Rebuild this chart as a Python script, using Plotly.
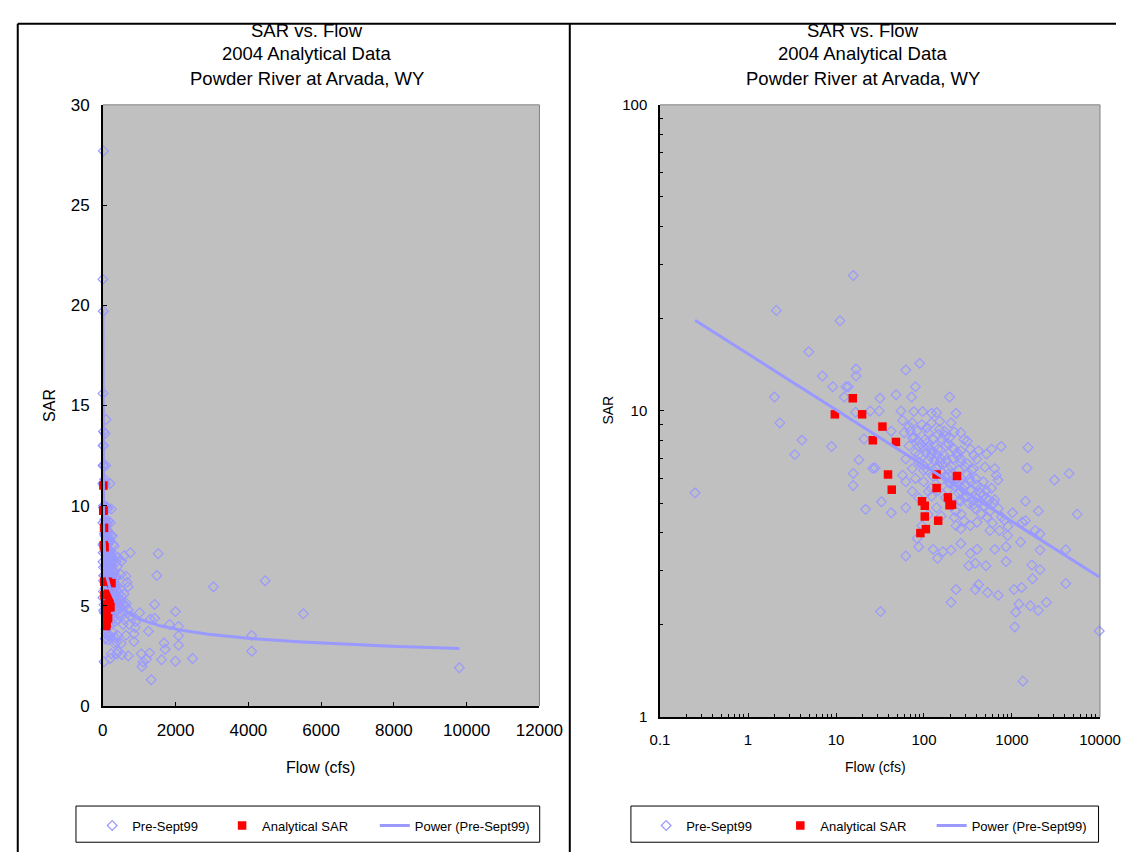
import numpy as np
import plotly.graph_objects as go

# ---------------- data ----------------
pre_flow = [0.25, 2.0, 2.1, 2.3, 3.4, 4.1, 4.9, 7.0, 8.9, 9.2, 11.1, 12.4, 13.0, 13.8, 15.7, 15.7, 15.7,
            16.7, 16.9, 16.9, 18.2, 20.8, 21.7, 24.5, 26.2, 27.8, 31.0, 31.6, 32.0, 32.9, 42.4, 42.4,
            48.2, 54.7, 57.1, 57.1, 59.5, 62.1, 62.1, 62.1, 62.1, 62.1, 67.6, 67.6, 72.3, 73.6, 73.6,
            73.6, 73.6, 76.7, 80.0, 80.0, 80.0, 83.5, 83.5, 87.1, 87.1, 87.1, 87.1, 89.3, 94.8, 94.8,
            96.4, 98.9, 98.9, 103, 108, 112, 112, 112, 112, 112, 122, 122, 122, 122, 127, 127, 139,
            139, 139, 142, 145, 145, 151, 151, 157, 157, 157, 164, 171, 171, 179, 187, 187, 195, 195,
            203, 203, 203, 203, 203, 212, 221, 221, 221, 231, 231, 231, 240, 251, 262, 262, 262, 262,
            262, 262, 262, 262, 285, 285, 310, 310, 310, 323, 337, 337, 337, 337, 337, 367, 367, 367,
            383, 383, 400, 400, 400, 400, 400, 417, 417, 435, 473, 493, 506, 515, 515, 528, 561, 585,
            585, 637, 637, 637, 664, 693, 699, 723, 754, 855, 855, 893, 1013, 1057, 1075, 1104, 1200,
            1253, 1285, 1306, 1330, 1422, 1422, 1484, 1521, 1614, 1683, 1713, 1834, 1995, 1995, 2081,
            2081, 2081, 2466, 3040, 4090, 4090, 4460, 5510, 9800,
            70, 78, 85, 92, 100, 105, 110, 118, 125, 130, 135, 140, 148, 155, 160, 165, 172, 180, 188,
            195, 205, 215, 225, 235, 245, 255, 270, 285, 300, 320, 340, 360, 380, 420, 450, 480, 520,
            560, 600, 110, 95, 88, 120, 128, 145, 175, 200, 230, 250, 265, 150, 175, 190, 210, 240,
            260, 290, 310, 330, 350, 390, 440, 470, 510, 550, 620, 700, 760, 820, 900]
pre_sar = [5.4, 11.1, 21.3, 9.14, 7.2, 8.03, 15.6, 13.0, 7.65, 12.0, 19.7, 11.1, 12.0, 12.0, 27.7, 6.25, 5.71,
           9.9, 13.7, 13.0, 6.92, 8.1, 4.77, 10.0, 6.5, 6.51, 10.0, 11.0, 2.21, 5.05, 8.59, 4.65,
           11.3, 10.0, 9.31, 6.17, 8.49, 13.6, 6.97, 5.87, 4.83, 3.36, 8.91, 7.69, 11.1, 9.14, 8.18,
           6.48, 5.46, 9.95, 12.0, 7.32, 6.02, 8.59, 3.83, 7.65, 6.80, 5.20, 3.60, 14.3, 9.02, 4.22,
           9.95, 6.40, 5.87, 8.07, 8.81, 8.49, 7.60, 6.89, 5.46, 4.59, 9.83, 9.14, 7.23, 5.26, 8.07, 3.53, 9.88,
           6.56, 4.83, 3.30, 8.38, 7.50, 9.25, 6.80, 8.11, 5.95, 4.54, 3.47, 8.59, 7.14, 7.69, 6.48, 5.53, 11.1, 8.18,
           9.14, 5.80, 4.89, 3.51, 2.37, 6.97, 8.53, 7.50, 4.49, 9.83, 4.22, 2.61, 7.14, 6.40, 8.49, 7.41, 6.80, 6.02,
           5.46, 5.07, 4.12, 3.69, 8.07, 4.38, 7.98, 6.72, 5.26, 3.12, 7.50, 5.87, 5.53, 4.22, 3.42, 7.18, 6.48, 4.95,
           3.18, 2.61, 6.97, 5.73, 5.20, 4.33, 3.53, 7.41, 2.71, 5.39, 5.87, 6.56, 3.12, 7.23, 5.20, 2.55, 4.07, 7.50,
           5.59, 6.48, 5.13, 3.53, 6.17, 5.95, 2.50, 4.07, 7.65, 3.60, 3.22, 3.92, 4.65, 2.61, 1.97, 2.20, 2.34,
           3.73, 2.65, 4.33, 1.31, 5.07, 4.38, 6.51, 7.60, 2.31, 3.14, 2.83, 4.07, 4.71, 2.23, 3.97,
           3.51, 3.03, 2.37, 5.95, 3.52, 2.73, 6.25, 4.6, 1.91,
           8.6, 8.2, 8.0, 7.8, 7.6, 7.3, 7.9, 7.1, 7.4, 6.9, 7.7, 7.2, 6.6, 7.0, 6.3, 6.7, 6.1, 6.9, 6.2,
           5.8, 6.6, 6.2, 5.7, 6.0, 5.4, 5.9, 5.6, 5.2, 5.7, 5.0, 5.5, 5.1, 4.8, 5.0, 4.6, 4.9, 4.5,
           4.7, 4.3, 6.4, 6.7, 7.2, 5.6, 6.1, 5.5, 5.2, 5.0, 4.7, 5.1, 4.6, 8.7, 8.3, 7.8, 7.6, 7.3,
           7.0, 6.6, 6.2, 6.0, 6.4, 6.0, 5.6, 5.3, 5.5, 5.1, 5.0, 4.8, 4.5, 4.4, 4.2]

an_flow = [15.5, 9.7, 19.8, 33.7, 26.2, 48, 39, 43, 139, 237, 139, 95, 102, 187, 208, 195, 102, 145, 105, 91]
an_sar = [11.0, 9.75, 9.75, 8.89, 8.02, 7.92, 6.2, 5.53, 6.2, 6.13, 5.6, 5.07, 4.9, 5.22, 4.94, 4.92,
          4.52, 4.38, 4.11, 3.99]

title_lines = ["SAR vs. Flow", "2004 Analytical Data", "Powder River at Arvada, WY"]
series_names = ["Pre-Sept99", "Analytical SAR", "Power (Pre-Sept99)"]
lin_x_ticks = [0, 2000, 4000, 6000, 8000, 10000, 12000]
lin_x_labels = ["0", "2000", "4000", "6000", "8000", "10000", "12000"]
lin_y_ticks = [0, 5, 10, 15, 20, 25, 30]
log_x_ticks = [0.1, 1, 10, 100, 1000, 10000]
log_x_labels = ["0.1", "1", "10", "100", "1000", "10000"]
log_y_ticks = [1, 10, 100]
log_y_labels = ["1", "10", "100"]

# ---------------- power trendline fitted to Pre-Sept99 ----------------
slope, icpt = np.polyfit(np.log10(pre_flow), np.log10(pre_sar), 1)
trend_x = np.logspace(np.log10(min(pre_flow)), np.log10(max(pre_flow)), 400)
trend_y = 10 ** icpt * trend_x ** slope

# ---------------- layout helpers ----------------
W, H = 1140, 862
FONT = "Liberation Sans, Arial, sans-serif"
DIAM = "#9999FF"
RED = "#FF0000"


def fx(p):
    return p / W


def fy(p):
    return 1 - p / H


minor_x = [m * 10.0 ** e for e in range(-1, 4) for m in range(2, 10)]
minor_y = [m * 10.0 ** e for e in range(0, 2) for m in range(2, 10)]

fig = go.Figure()

panels = [("x", "y", 1), ("x2", "y2", 4)]
for xa, ya, lg in panels:
    fig.add_trace(go.Scatter(
        x=pre_flow, y=pre_sar, mode="markers", name=series_names[0], xaxis=xa, yaxis=ya,
        cliponaxis=False,
        marker=dict(symbol="diamond-open", size=7.5, color=DIAM, line=dict(width=1.2, color=DIAM)),
        legend="legend" if lg == 1 else "legend%d" % lg))
    fig.add_trace(go.Scatter(
        x=an_flow, y=an_sar, mode="markers", name=series_names[1], xaxis=xa, yaxis=ya,
        cliponaxis=False,
        marker=dict(symbol="square", size=8.5, color=RED, line=dict(width=0)),
        legend="legend%d" % (lg + 1)))
    fig.add_trace(go.Scatter(
        x=trend_x, y=trend_y, mode="lines", name=series_names[2], xaxis=xa, yaxis=ya,
        line=dict(color=DIAM, width=3),
        legend="legend%d" % (lg + 2)))

axis_common = dict(showgrid=False, zeroline=False, showline=True, linecolor="black", linewidth=1.5,
                   ticks="inside", ticklen=4, tickwidth=1, tickcolor="black")

legend_pos = {"legend": 84.7, "legend2": 218.6, "legend3": 376,
              "legend4": 655.7, "legend5": 794, "legend6": 950}
legends = {}
for k, xp in legend_pos.items():
    legends[k] = dict(x=fx(xp), y=fy(835), xanchor="left", yanchor="middle", orientation="h",
                      bgcolor="rgba(0,0,0,0)", borderwidth=0,
                      font=dict(family=FONT, size=13, color="black"))

fig.update_layout(
    width=W, height=H, autosize=False, margin=dict(l=0, r=0, t=0, b=0),
    paper_bgcolor="white", plot_bgcolor="#C0C0C0", showlegend=True,
    font=dict(family=FONT, color="black"),
    xaxis=dict(domain=[fx(95.7), fx(545.7)], range=[0, 12000], tickmode="array", tickvals=lin_x_ticks,
               ticktext=lin_x_labels, tickfont=dict(size=17), ticklabelstandoff=8, **axis_common),
    yaxis=dict(domain=[fy(712.7), fy(98)], range=[0, 30], tickmode="array", tickvals=lin_y_ticks,
               tickfont=dict(size=17), ticklabelstandoff=8, **axis_common),
    xaxis2=dict(domain=[fx(670), fx(1123.5)], type="log", range=[-1, 4], tickmode="array",
                tickvals=log_x_ticks, ticktext=log_x_labels, tickfont=dict(size=15), ticklabelstandoff=8,
                anchor="y2",
                minor=dict(tickmode="array", tickvals=minor_x, ticks="inside", ticklen=3, tickcolor="black"),
                **axis_common),
    yaxis2=dict(domain=[fy(724), fy(98)], type="log", range=[0, 2], tickmode="array",
                tickvals=log_y_ticks, ticktext=log_y_labels, tickfont=dict(size=15), ticklabelstandoff=8,
                anchor="x2",
                minor=dict(tickmode="array", tickvals=minor_y, ticks="inside", ticklen=3, tickcolor="black"),
                **axis_common),
    **legends,
)

shapes = []
# plot-area top/right gray borders
for xr, yr in [("x domain", "y domain"), ("x2 domain", "y2 domain")]:
    shapes.append(dict(type="line", xref=xr, yref=yr, x0=0, x1=1, y0=1, y1=1,
                       line=dict(color="#808080", width=1)))
    shapes.append(dict(type="line", xref=xr, yref=yr, x0=1, x1=1, y0=0, y1=1,
                       line=dict(color="#808080", width=1)))
# panel frames
frame = dict(color="black", width=2)
shapes.append(dict(type="line", xref="paper", yref="paper", x0=fx(8), x1=fx(8), y0=fy(15), y1=0, line=frame))
shapes.append(dict(type="line", xref="paper", yref="paper", x0=fx(8), x1=1, y0=fy(15), y1=fy(15), line=frame))
shapes.append(dict(type="line", xref="paper", yref="paper", x0=fx(577), x1=fx(577), y0=fy(15), y1=0, line=frame))
# legend boxes
for x0, x1 in [(68, 546), (640, 1122)]:
    shapes.append(dict(type="rect", xref="paper", yref="paper", x0=fx(x0), x1=fx(x1), y0=fy(852), y1=fy(815),
                       line=dict(color="black", width=1), fillcolor="rgba(0,0,0,0)"))
fig.update_layout(shapes=shapes)

ann = []
for cx in (306, 879):
    for line, yp in zip(title_lines, (22, 46, 71)):
        ann.append(dict(text=line, x=fx(cx), y=fy(yp), xref="paper", yref="paper", showarrow=False,
                        xanchor="center", yanchor="middle", font=dict(size=18.5, family=FONT, color="black")))
ann.append(dict(text="SAR", x=fx(40), y=fy(405), xref="paper", yref="paper", showarrow=False, textangle=-90,
                xanchor="center", yanchor="middle", font=dict(size=16, family=FONT)))
ann.append(dict(text="Flow (cfs)", x=fx(320), y=fy(776), xref="paper", yref="paper", showarrow=False,
                xanchor="center", yanchor="middle", font=dict(size=16, family=FONT)))
ann.append(dict(text="SAR", x=fx(616), y=fy(410), xref="paper", yref="paper", showarrow=False, textangle=-90,
                xanchor="center", yanchor="middle", font=dict(size=14, family=FONT)))
ann.append(dict(text="Flow (cfs)", x=fx(892), y=fy(775), xref="paper", yref="paper", showarrow=False,
                xanchor="center", yanchor="middle", font=dict(size=14, family=FONT)))
fig.update_layout(annotations=ann)

post = (
    "document.documentElement.style.margin='0';document.documentElement.style.padding='0';"
    "document.body.style.margin='0';document.body.style.padding='0';document.body.style.overflow='hidden';"
)

fig.write_html("out.html", config={"responsive": False, "displayModeBar": False}, post_script=post)
